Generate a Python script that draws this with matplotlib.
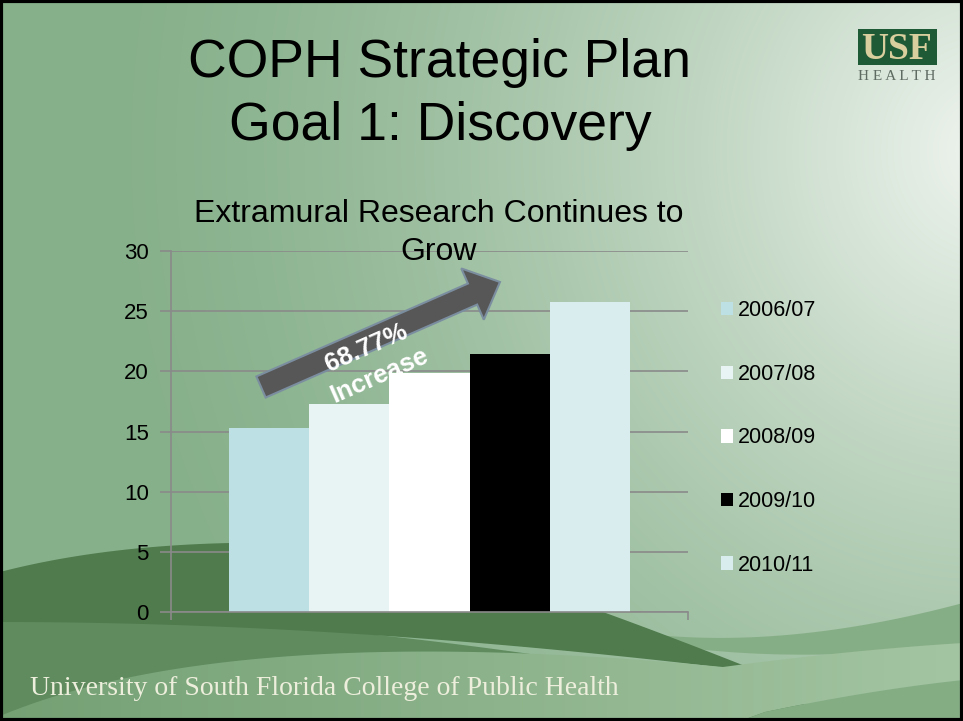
import numpy as np
import matplotlib.pyplot as plt
from matplotlib.patches import FancyArrow, Rectangle, Polygon

plt.rcParams['font.family'] = ['Liberation Sans', 'DejaVu Sans']

years = ["2006/07", "2007/08", "2008/09", "2009/10", "2010/11"]
funding = [15.3, 17.25, 19.9, 21.4, 25.8]
bar_colors = ["#BDE0E5", "#E8F3F4", "#FFFFFF", "#000000", "#D9ECEE"]
yticks = [0, 5, 10, 15, 20, 25, 30]

W, H = 963, 721
fig = plt.figure(figsize=(W / 100, H / 100), dpi=100)

# slide background: soft green gradient, light towards the top right
bg = fig.add_axes([0, 0, 1, 1], zorder=0)
bg.set_xlim(0, W)
bg.set_ylim(H, 0)
bg.axis("off")
yy, xx = np.mgrid[0:H, 0:W]
r = np.sqrt(((xx - 990) / 900) ** 2 + ((yy - 150) / 950) ** 2)
t = np.clip(1 - r, 0, 1) ** 1.5
green = np.array([0x86, 0xB0, 0x8A]) / 255
light = np.array([0xF0, 0xF5, 0xF0]) / 255
img = green * (1 - t[..., None]) + light * t[..., None]
bg.imshow(img, extent=(0, W, H, 0), aspect="auto", zorder=0)


def curve(p0, p1, p2, n=80):
    s = np.linspace(0, 1, n)[:, None]
    return (1 - s) ** 2 * np.array(p0) + 2 * (1 - s) * s * np.array(p1) + s ** 2 * np.array(p2)


def shape(*parts, color="none", z=1):
    poly = Polygon(np.vstack(parts), closed=True, fc=color, ec="none", zorder=z)
    bg.add_patch(poly)
    return poly


# waves along the bottom of the slide
shape(curve((0, 610), (400, 620), (800, 700)), [(820, 721), (0, 721)], color="#5F8B5F")
shape(curve((540, 612), (720, 668), (963, 603)), [(963, 645)],
      curve((963, 645), (700, 675), (540, 612)), color="#86AE86")
shape(curve((0, 572), (170, 528), (420, 550)), curve((420, 550), (580, 600), (760, 672)),
      curve((760, 672), (350, 622), (0, 622)), color="#4F7B4D")
swoosh = shape(curve((0, 716), (230, 620), (723, 667)), curve((723, 667), (850, 650), (963, 643)),
               [(963, 680)], curve((963, 680), (870, 690), (765, 712)), [(740, 721), (0, 721)])
sw_img = np.linspace(0, 1, W)[None, :, None]
sw_c = (np.array([0x74, 0xA0, 0x74]) / 255) * (1 - sw_img) + (np.array([0xA4, 0xC5, 0xA2]) / 255) * sw_img
sw = bg.imshow(np.repeat(sw_c, 2, axis=0), extent=(0, W, H, 600), aspect="auto", zorder=2)
sw.set_clip_path(swoosh)
shape(curve((765, 712), (870, 690), (963, 680)), [(963, 721), (740, 721)], color="#84AD84", z=3)

# chart
ax = fig.add_axes([171 / W, 1 - 612 / H, (688 - 171) / W, (612 - 251) / H], zorder=2)
ax.patch.set_visible(False)
width = 0.155
for i, (lab, val, col) in enumerate(zip(years, funding, bar_colors)):
    ax.bar((i - 2) * width, val, width, color=col, label=lab, zorder=2)
ax.set_xlim(-0.5, 0.5)
ax.set_ylim(0, 30)
ax.set_yticks(yticks)
ax.set_xticks([-0.5, 0.5])
ax.set_xticklabels([])
ax.yaxis.grid(True, color="#8A8A8A", lw=1.2)
ax.set_axisbelow(True)
for side in ["top", "right"]:
    ax.spines[side].set_visible(False)
for side in ["left", "bottom"]:
    ax.spines[side].set_color("#8A8A8A")
    ax.spines[side].set_linewidth(1.2)
ax.tick_params(axis="y", length=8, width=1.2, color="#8A8A8A", pad=8, labelsize=16)
ax.tick_params(axis="x", length=6, width=1.2, color="#8A8A8A")

fig.legend(loc="center left", bbox_to_anchor=(721 / W, 1 - 438 / H), frameon=False,
           fontsize=15.5, handlelength=0.58, handleheight=0.58, handletextpad=0.22,
           labelspacing=1.98, borderpad=0, borderaxespad=0)

# overlay: titles, arrow, logo, footer
ov = fig.add_axes([0, 0, 1, 1], zorder=3)
ov.set_xlim(0, W)
ov.set_ylim(H, 0)
ov.axis("off")

ov.text(440, 77, "COPH Strategic Plan", ha="center", va="baseline", fontsize=38.5)
ov.text(440, 140, "Goal 1: Discovery", ha="center", va="baseline", fontsize=38.5)
ov.text(439, 222, "Extramural Research Continues to", ha="center", va="baseline", fontsize=23)
ov.text(439, 260, "Grow", ha="center", va="baseline", fontsize=23)

ov.add_patch(FancyArrow(261, 387, 239, -105, width=23, head_width=56, head_length=30,
                        length_includes_head=True, fc="#575757", ec="#7B8EA0", lw=1.5))
ov.text(366, 348, "68.77%", ha="center", va="center", rotation=23.7,
        fontsize=18.5, fontweight="bold", color="white")
ov.text(379, 376, "Increase", ha="center", va="center", rotation=23.7,
        fontsize=18.5, fontweight="bold", color="white")

ov.add_patch(Rectangle((858, 29), 79, 36, fc="#1F5A37", ec="none"))
ov.text(897, 59, "USF", ha="center", va="baseline", fontsize=27, fontweight="bold",
        family="Liberation Serif", color="#D8CE9E")
ov.text(897, 80, "H E A L T H", ha="center", va="baseline", fontsize=11,
        family="Liberation Serif", color="#5E6B62")

ov.text(30, 695, "University of South Florida College of Public Health", ha="left",
        va="baseline", fontsize=20, family="Liberation Serif", color="#EDEFDC")

ov.add_patch(Rectangle((1, 1), W - 2, H - 2, fill=False, ec="black", lw=3))

fig.savefig("out.png", dpi=100)
